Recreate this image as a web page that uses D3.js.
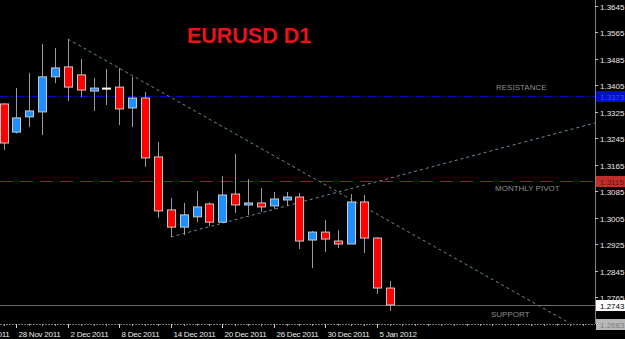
<!DOCTYPE html>
<html><head><meta charset="utf-8">
<script src="https://cdn.jsdelivr.net/npm/d3@7"></script>
<style>html,body{margin:0;padding:0;background:#000;overflow:hidden}svg{display:block}</style>
</head><body><svg id="c" width="625" height="339"></svg>
<script>
const dates = ["25 Nov 2011","28 Nov 2011","29 Nov 2011","30 Nov 2011","1 Dec 2011","2 Dec 2011","5 Dec 2011","6 Dec 2011","7 Dec 2011","8 Dec 2011","9 Dec 2011","12 Dec 2011","13 Dec 2011","14 Dec 2011","15 Dec 2011","16 Dec 2011","19 Dec 2011","20 Dec 2011","21 Dec 2011","22 Dec 2011","23 Dec 2011","26 Dec 2011","27 Dec 2011","28 Dec 2011","29 Dec 2011","30 Dec 2011","2 Jan 2012","3 Jan 2012","4 Jan 2012","5 Jan 2012","6 Jan 2012"];
const open  = [1.3349,1.3264,1.3310,1.3325,1.3431,1.3461,1.3437,1.3388,1.3397,1.3400,1.3337,1.3367,1.3189,1.3029,1.2977,1.3008,1.3047,1.2992,1.3077,1.3044,1.3050,1.3041,1.3059,1.3068,1.2938,1.2962,1.2935,1.2926,1.3053,1.2944,1.2793];
const high  = [1.3352,1.3397,1.3443,1.3530,1.3518,1.3545,1.3485,1.3428,1.3455,1.3458,1.3431,1.3385,1.3234,1.3065,1.3050,1.3086,1.3052,1.3131,1.3198,1.3122,1.3095,1.3083,1.3083,1.3080,1.2965,1.2998,1.2968,1.3077,1.3074,1.2947,1.2814];
const low   = [1.3210,1.3260,1.3279,1.3255,1.3412,1.3358,1.3370,1.3328,1.3346,1.3285,1.3279,1.3159,1.3005,1.2947,1.2953,1.2992,1.2980,1.2989,1.3020,1.3014,1.3023,1.3032,1.3041,1.2911,1.2853,1.2902,1.2914,1.2926,1.2899,1.2775,1.2724];
const close = [1.3231,1.3307,1.3328,1.3431,1.3458,1.3400,1.3391,1.3397,1.3397,1.3334,1.3367,1.3186,1.3026,1.2977,1.3014,1.3038,1.2992,1.3074,1.3044,1.3050,1.3038,1.3062,1.3068,1.2935,1.2962,1.2941,1.2926,1.3053,1.2944,1.2793,1.2742];

const priceTicks = [1.3645,1.3565,1.3485,1.3405,1.3325,1.3245,1.3165,1.3085,1.3005,1.2925,1.2845,1.2765];
const dateTickIdx = [-3,1,5,9,13,17,21,25,29];
const dateTickLabels = ["22 Nov 2011","28 Nov 2011","2 Dec 2011","8 Dec 2011","14 Dec 2011","20 Dec 2011","26 Dec 2011","30 Dec 2011","5 Jan 2012"];

const levelNames  = ["RESISTANCE","MONTHLY PIVOT","SUPPORT"];
const levelPrices = [1.3373,1.3115,1.2743];
const bottomPrice = 1.2683;

// trend lines: [index, price] anchor pairs
const downTrendIdx = [5,44];
const downTrendPrice = [1.3545,1.2687];
const upTrendIdx = [13,46];
const upTrendPrice = [1.2947,1.3292];

const title = "EURUSD D1";

const svg = d3.select("#c");
const W = 625, H = 339, plotR = 595, plotB = 324;
const axFont = "'Liberation Sans', Arial, sans-serif";
svg.append("rect").attr("width",W).attr("height",H).attr("fill","#000");

const x = d3.scaleLinear().domain([0,30]).range([3.5,389.5]);
const y = d3.scaleLinear().domain([1.3645,1.2765]).range([6,297.3]);

svg.append("defs").append("clipPath").attr("id","clip")
  .append("rect").attr("x",0).attr("y",0).attr("width",plotR).attr("height",plotB);
const plot = svg.append("g").attr("clip-path","url(#clip)");

// level lines
plot.append("line").attr("x1",0).attr("x2",plotR).attr("y1",Math.round(y(levelPrices[0]))+0.5).attr("y2",Math.round(y(levelPrices[0]))+0.5)
  .attr("stroke","#0000e0").attr("stroke-width",1.2).attr("stroke-dasharray","8,3,2,3");
plot.append("line").attr("x1",0).attr("x2",plotR).attr("y1",Math.round(y(levelPrices[1]))+0.5).attr("y2",Math.round(y(levelPrices[1]))+0.5)
  .attr("stroke","#9a2020").attr("stroke-width",1).attr("stroke-dasharray","13,7");
plot.append("line").attr("x1",0).attr("x2",plotR).attr("y1",Math.round(y(levelPrices[2]))+0.5).attr("y2",Math.round(y(levelPrices[2]))+0.5)
  .attr("stroke","#6a6a6a").attr("stroke-width",1);

// trend lines
function trend(idx, pr){
  plot.append("line")
    .attr("x1",x(idx[0])).attr("y1",y(pr[0]))
    .attr("x2",x(idx[1])).attr("y2",y(pr[1]))
    .attr("stroke","#6c8a9c").attr("stroke-width",1).attr("stroke-dasharray","3,3");
}
trend(downTrendIdx, downTrendPrice);
trend(upTrendIdx, upTrendPrice);

// candles
const data = dates.map((d,i)=>({d,i,o:open[i],h:high[i],l:low[i],c:close[i]}));
const cg = plot.append("g");
cg.selectAll("line.w").data(data).join("line")
  .attr("x1",d=>Math.round(x(d.i))+0.5).attr("x2",d=>Math.round(x(d.i))+0.5)
  .attr("y1",d=>y(d.h)).attr("y2",d=>y(d.l))
  .attr("stroke","#9a9a9a").attr("stroke-width",1);
cg.selectAll("rect.b").data(data).join("rect")
  .attr("x",d=>Math.round(x(d.i))-4+0.5)
  .attr("width",8)
  .attr("y",d=>y(Math.max(d.o,d.c)))
  .attr("height",d=>Math.max(1,Math.abs(y(d.o)-y(d.c))))
  .attr("fill",d=>d.c>d.o?"#1e8fff":(d.c<d.o?"#ff0000":"#ffffff"))
  .attr("stroke",d=>d.c===d.o?"#ffffff":"#c8c8c8").attr("stroke-width",1);

// level labels
const lblX = [496,495,491], lblY = [90,191,317];
levelNames.forEach((n,i)=>{
  svg.append("text").attr("x",lblX[i]).attr("y",lblY[i]).text(n)
    .attr("font-family","Liberation Sans, Arial, sans-serif").attr("font-size","8px").attr("fill","#8c8c8c");
});

// title
svg.append("text").attr("x",249).attr("y",43).attr("text-anchor","middle").text(title)
  .attr("font-family","Liberation Sans, Arial, sans-serif").attr("font-weight","bold").attr("font-size","21.5px").attr("fill","#e8121a");

// right axis
svg.append("line").attr("x1",plotR+0.5).attr("x2",plotR+0.5).attr("y1",0).attr("y2",plotB).attr("stroke","#808080");
const ra = svg.append("g");
priceTicks.forEach(p=>{
  const yy = Math.round(y(p))+0.5;
  ra.append("line").attr("x1",plotR).attr("x2",plotR+3).attr("y1",yy).attr("y2",yy).attr("stroke","#c0c0c0");
  ra.append("text").attr("x",600).attr("y",yy+3).text(d3.format(".4f")(p))
    .attr("font-family",axFont).attr("font-size","8px").attr("fill","#e8e8e8");
});
// price boxes
const boxFill = ["#0010c8","#c0302a","#ffffff"], boxText = ["#3a4ce8","#6a0c0c","#000000"];
levelPrices.forEach((p,i)=>{
  const yy = Math.round(y(p));
  svg.append("rect").attr("x",plotR+1).attr("y",yy-5).attr("width",W-plotR-1).attr("height",11).attr("fill",boxFill[i]);
  svg.append("text").attr("x",600).attr("y",yy+3.5).text(d3.format(".4f")(p))
    .attr("font-family",axFont).attr("font-size","8px").attr("fill",boxText[i]);
});
{
  const yy = Math.round(y(bottomPrice));
  svg.append("rect").attr("x",plotR+1).attr("y",yy-5).attr("width",W-plotR-1).attr("height",11).attr("fill","#b8b8b8");
  svg.append("text").attr("x",600).attr("y",yy+3.5).text(d3.format(".4f")(bottomPrice))
    .attr("font-family",axFont).attr("font-size","8px").attr("fill","#808080");
}

// bottom axis
svg.append("line").attr("x1",0).attr("x2",plotR).attr("y1",plotB+0.5).attr("y2",plotB+0.5).attr("stroke","#707070").attr("stroke-dasharray","2,1");
const minor = d3.range(-1,46);
svg.selectAll("line.mt").data(minor).join("line")
  .attr("x1",d=>Math.round(x(d))+0.5).attr("x2",d=>Math.round(x(d))+0.5)
  .attr("y1",plotB).attr("y2",plotB+2).attr("stroke","#9a9a9a");
dateTickIdx.forEach((ix,k)=>{
  const xx = Math.round(x(ix))+0.5;
  svg.append("line").attr("x1",xx).attr("x2",xx).attr("y1",plotB).attr("y2",plotB+4).attr("stroke","#d0d0d0");
  svg.append("text").attr("x",xx+2).attr("y",337).text(dateTickLabels[k])
    .attr("font-family",axFont).attr("font-size","8px").attr("letter-spacing","-0.25px").attr("fill","#e8e8e8");
});
</script></body></html>
